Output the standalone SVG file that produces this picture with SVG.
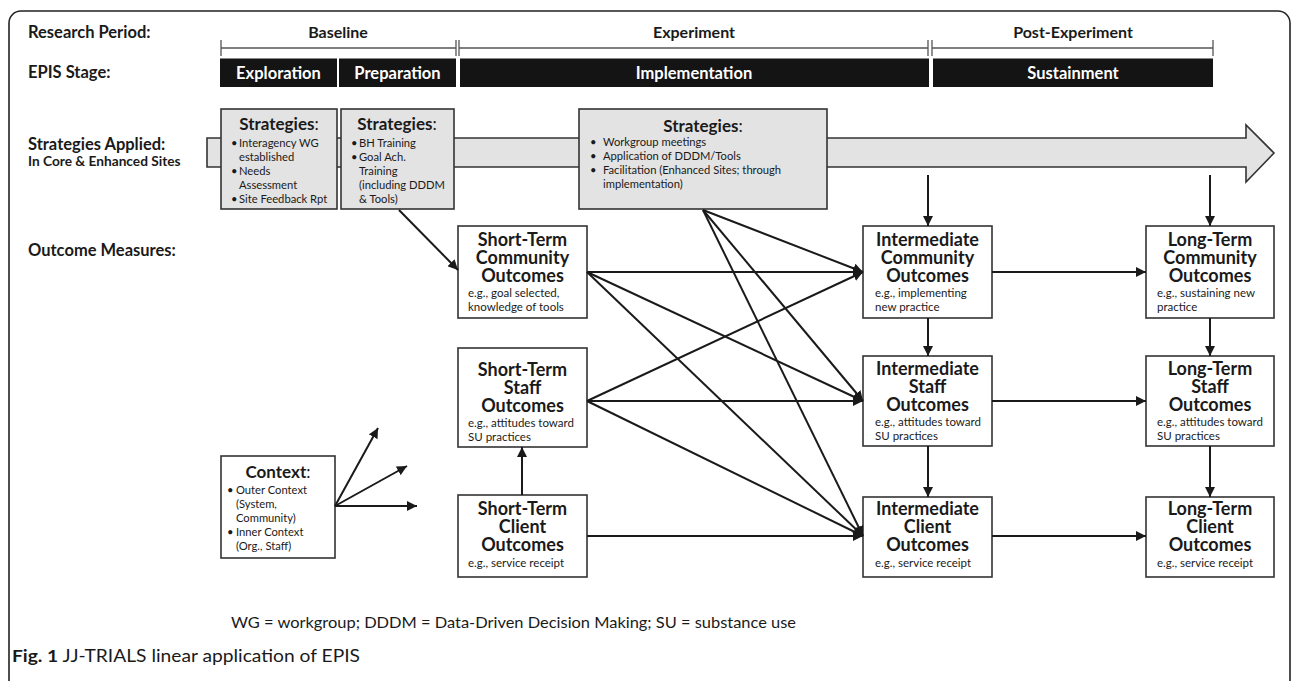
<svg xmlns="http://www.w3.org/2000/svg" width="1292" height="681" viewBox="0 0 1292 681">
<style>
text{font-family:Lato,"Liberation Sans",sans-serif;fill:#1a1a1a}
.lbl{font-size:16.5px;font-weight:bold}
.sub{font-size:13.7px;font-weight:bold}
.per{font-size:16px;font-weight:bold;text-anchor:middle}
.epis{font-size:16.5px;font-weight:bold;fill:#fff;text-anchor:middle}
.bar{fill:#141414}
.tick{stroke:#555;stroke-width:1.3;fill:none}
.sbox{fill:#e3e3e3;stroke:#333;stroke-width:1.6}
.obox{fill:#fff;stroke:#333;stroke-width:1.6}
.st{font-size:17px;font-weight:bold;text-anchor:middle}
.st tspan.c{font-weight:normal}
.b{font-size:11.2px}
.t{font-size:18px;font-weight:bold;text-anchor:middle}
.e{font-size:11.5px}
.con line{stroke:#1a1a1a;stroke-width:2;marker-end:url(#ah)}
</style>
<defs>
<marker id="ah" viewBox="0 0 10 10" refX="10" refY="5" markerWidth="5" markerHeight="5" markerUnits="strokeWidth" orient="auto">
<path d="M0,0 L10,5 L0,10 z" fill="#1a1a1a"/>
</marker>
</defs>
<rect x="9" y="11" width="1281" height="690" rx="12" fill="#fff" stroke="#222" stroke-width="1.6"/>

<g id="labels">
<text class="lbl" x="28" y="38">Research Period:</text>
<text class="lbl" x="28" y="78">EPIS Stage:</text>
<text class="lbl" x="28" y="150">Strategies Applied:</text>
<text class="sub" x="28" y="166">In Core &amp; Enhanced Sites</text>
<text class="lbl" x="28" y="256">Outcome Measures:</text>
</g>

<g id="periods">
<text class="per" x="338" y="38">Baseline</text>
<path class="tick" d="M221,40V56M221,48H456M456,40V56"/>
<text class="per" x="694" y="38">Experiment</text>
<path class="tick" d="M459,40V56M459,48H928M928,40V56"/>
<text class="per" x="1073" y="38">Post-Experiment</text>
<path class="tick" d="M932,40V56M932,48H1213M1213,40V56"/>
</g>

<g id="epis">
<rect class="bar" x="220" y="58.5" width="117" height="28.5"/>
<text class="epis" x="278.5" y="78.5">Exploration</text>
<rect class="bar" x="339" y="58.5" width="117" height="28.5"/>
<text class="epis" x="397.5" y="78.5">Preparation</text>
<rect class="bar" x="460" y="58.5" width="469" height="28.5"/>
<text class="epis" x="694" y="78.5">Implementation</text>
<rect class="bar" x="933" y="58.5" width="280" height="28.5"/>
<text class="epis" x="1073" y="78.5">Sustainment</text>
</g>

<g id="strategy-arrow">
<polygon points="207,138 1246,138 1246,125 1274,153 1246,182 1246,167 207,167" fill="#e3e3e3" stroke="#333" stroke-width="1.6"/>
</g>

<g id="strategies-1">
<rect class="sbox" x="221" y="109" width="116" height="100"/>
<text class="st" x="279" y="130">Strategies<tspan class="c">:</tspan></text>
<text class="b" x="231" y="147">•</text><text class="b" x="239" y="147">Interagency WG</text>
<text class="b" x="239" y="161">established</text>
<text class="b" x="231" y="175">•</text><text class="b" x="239" y="175">Needs</text>
<text class="b" x="239" y="189">Assessment</text>
<text class="b" x="231" y="203">•</text><text class="b" x="239" y="203">Site Feedback Rpt</text>
</g>

<g id="strategies-2">
<rect class="sbox" x="341" y="109" width="113" height="100"/>
<text class="st" x="397" y="130">Strategies<tspan class="c">:</tspan></text>
<text class="b" x="351" y="147">•</text><text class="b" x="359" y="147">BH Training</text>
<text class="b" x="351" y="161">•</text><text class="b" x="359" y="161">Goal Ach.</text>
<text class="b" x="359" y="175">Training</text>
<text class="b" x="359" y="189">(including DDDM</text>
<text class="b" x="359" y="203">&amp; Tools)</text>
</g>

<g id="strategies-3">
<rect class="sbox" x="579" y="109" width="248" height="100"/>
<text class="st" x="703" y="132">Strategies<tspan class="c">:</tspan></text>
<text class="b" x="590" y="146">•</text><text class="b" x="603" y="146">Workgroup meetings</text>
<text class="b" x="590" y="160">•</text><text class="b" x="603" y="160">Application of DDDM/Tools</text>
<text class="b" x="590" y="174">•</text><text class="b" x="603" y="174">Facilitation (Enhanced Sites; through</text>
<text class="b" x="603" y="188">implementation)</text>
</g>

<g id="st-community">
<rect class="obox" x="458" y="226" width="129" height="92"/>
<text class="t" x="522.5" y="246">Short-Term</text>
<text class="t" x="522.5" y="264">Community</text>
<text class="t" x="522.5" y="282">Outcomes</text>
<text class="e" x="468" y="297">e.g., goal selected,</text>
<text class="e" x="468" y="311">knowledge of tools</text>
</g>

<g id="st-staff">
<rect class="obox" x="458" y="348" width="129" height="99"/>
<text class="t" x="522.5" y="376">Short-Term</text>
<text class="t" x="522.5" y="394">Staff</text>
<text class="t" x="522.5" y="412">Outcomes</text>
<text class="e" x="468" y="427">e.g., attitudes toward</text>
<text class="e" x="468" y="441">SU practices</text>
</g>

<g id="st-client">
<rect class="obox" x="458" y="495" width="129" height="82"/>
<text class="t" x="522.5" y="515">Short-Term</text>
<text class="t" x="522.5" y="533">Client</text>
<text class="t" x="522.5" y="551">Outcomes</text>
<text class="e" x="468" y="567">e.g., service receipt</text>
</g>

<g id="int-community">
<rect class="obox" x="863" y="226" width="129" height="92"/>
<text class="t" x="927.5" y="246">Intermediate</text>
<text class="t" x="927.5" y="264">Community</text>
<text class="t" x="927.5" y="282">Outcomes</text>
<text class="e" x="875" y="297">e.g., implementing</text>
<text class="e" x="875" y="311">new practice</text>
</g>

<g id="int-staff">
<rect class="obox" x="863" y="356" width="129" height="90"/>
<text class="t" x="927.5" y="375">Intermediate</text>
<text class="t" x="927.5" y="393">Staff</text>
<text class="t" x="927.5" y="411">Outcomes</text>
<text class="e" x="875" y="426">e.g., attitudes toward</text>
<text class="e" x="875" y="440">SU practices</text>
</g>

<g id="int-client">
<rect class="obox" x="863" y="497" width="129" height="80"/>
<text class="t" x="927.5" y="515">Intermediate</text>
<text class="t" x="927.5" y="533">Client</text>
<text class="t" x="927.5" y="551">Outcomes</text>
<text class="e" x="875" y="567">e.g., service receipt</text>
</g>

<g id="lt-community">
<rect class="obox" x="1146" y="226" width="128" height="92"/>
<text class="t" x="1210" y="246">Long-Term</text>
<text class="t" x="1210" y="264">Community</text>
<text class="t" x="1210" y="282">Outcomes</text>
<text class="e" x="1157" y="297">e.g., sustaining new</text>
<text class="e" x="1157" y="311">practice</text>
</g>

<g id="lt-staff">
<rect class="obox" x="1146" y="356" width="128" height="90"/>
<text class="t" x="1210" y="375">Long-Term</text>
<text class="t" x="1210" y="393">Staff</text>
<text class="t" x="1210" y="411">Outcomes</text>
<text class="e" x="1157" y="426">e.g., attitudes toward</text>
<text class="e" x="1157" y="440">SU practices</text>
</g>

<g id="lt-client">
<rect class="obox" x="1146" y="497" width="128" height="80"/>
<text class="t" x="1210" y="515">Long-Term</text>
<text class="t" x="1210" y="533">Client</text>
<text class="t" x="1210" y="551">Outcomes</text>
<text class="e" x="1157" y="567">e.g., service receipt</text>
</g>

<g id="context">
<rect class="obox" x="221" y="456" width="114" height="102"/>
<text class="st" x="278" y="478">Context<tspan class="c">:</tspan></text>
<text class="b" x="227" y="494">•</text><text class="b" x="236" y="494">Outer Context</text>
<text class="b" x="236" y="508">(System,</text>
<text class="b" x="236" y="522">Community)</text>
<text class="b" x="227" y="536">•</text><text class="b" x="236" y="536">Inner Context</text>
<text class="b" x="236" y="550">(Org., Staff)</text>
</g>

<g id="connectors" class="con">
<line x1="399" y1="210" x2="458" y2="270"/>
<line x1="703" y1="210" x2="863" y2="272"/>
<line x1="703" y1="210" x2="863" y2="401"/>
<line x1="703" y1="210" x2="863" y2="536"/>
<line x1="587" y1="272" x2="863" y2="272"/>
<line x1="587" y1="272" x2="863" y2="401"/>
<line x1="587" y1="272" x2="863" y2="536"/>
<line x1="587" y1="401" x2="863" y2="272"/>
<line x1="587" y1="401" x2="863" y2="401"/>
<line x1="587" y1="401" x2="863" y2="536"/>
<line x1="587" y1="536" x2="863" y2="536"/>
<line x1="522" y1="495" x2="522" y2="447"/>
<line x1="928" y1="175" x2="928" y2="226"/>
<line x1="1210" y1="175" x2="1210" y2="226"/>
<line x1="992" y1="272" x2="1146" y2="272"/>
<line x1="992" y1="401" x2="1146" y2="401"/>
<line x1="992" y1="536" x2="1146" y2="536"/>
<line x1="928" y1="318" x2="928" y2="356"/>
<line x1="928" y1="446" x2="928" y2="497"/>
<line x1="1210" y1="318" x2="1210" y2="356"/>
<line x1="1210" y1="446" x2="1210" y2="497"/>
<line x1="335" y1="506" x2="378" y2="428"/>
<line x1="335" y1="506" x2="407" y2="466"/>
<line x1="335" y1="506" x2="417" y2="506"/>
</g>

<g id="notes">
<text x="231" y="628" font-size="15" textLength="565" lengthAdjust="spacingAndGlyphs">WG = workgroup; DDDM = Data-Driven Decision Making; SU = substance use</text>
<text x="12" y="662" font-size="17" textLength="348" lengthAdjust="spacingAndGlyphs"><tspan font-weight="bold">Fig. 1</tspan> JJ-TRIALS linear application of EPIS</text>
</g>
</svg>
